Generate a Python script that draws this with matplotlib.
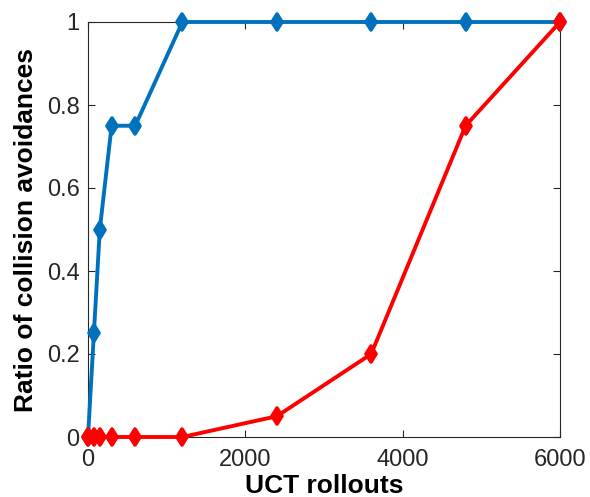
import matplotlib
matplotlib.use("Agg")
import matplotlib.pyplot as plt
from matplotlib.markers import MarkerStyle

plt.rcParams['font.family'] = ['Liberation Sans', 'DejaVu Sans']

# Data
rollouts = [0, 75, 150, 300, 600, 1200, 2400, 3600, 4800, 6000]
blue_ratio = [0, 0.25, 0.5, 0.75, 0.75, 1, 1, 1, 1, 1]
red_ratio = [0, 0, 0, 0, 0, 0, 0.05, 0.2, 0.75, 1]

xticks = [0, 2000, 4000, 6000]
yticks = [0, 0.2, 0.4, 0.6, 0.8, 1]
yticklabels = ['0', '0.2', '0.4', '0.6', '0.8', '1']

fig = plt.figure(figsize=(5.9, 4.97), dpi=100)
ax = fig.add_axes([88 / 590, 60 / 497, 472 / 590, 415 / 497])

mk = MarkerStyle('d', joinstyle='round')
for vals, col, z in [(blue_ratio, '#0072BD', 2), (red_ratio, '#FF0000', 3)]:
    ax.plot(rollouts, vals, color=col, lw=2.8, marker=mk, ms=8, mew=2.6,
            zorder=z, clip_on=False, solid_joinstyle='round')

ax.set_xlim(0, 6000)
ax.set_ylim(0, 1)
ax.set_xticks(xticks)
ax.set_yticks(yticks)
ax.set_yticklabels(yticklabels)
ax.tick_params(direction='in', length=5, width=0.8, labelsize=17, pad=6,
               top=True, right=True, colors='#262626', labelcolor='#262626')
ax.tick_params(axis='x', pad=9)
for s in ax.spines.values():
    s.set_linewidth(0.8)
    s.set_color('#262626')
    s.set_zorder(1)

ax.set_xlabel('UCT rollouts', fontsize=19, fontweight='bold', labelpad=2)
ax.set_ylabel('Ratio of collision avoidances', fontsize=19, fontweight='bold',
              labelpad=6)

fig.savefig('out.png', dpi=100)
